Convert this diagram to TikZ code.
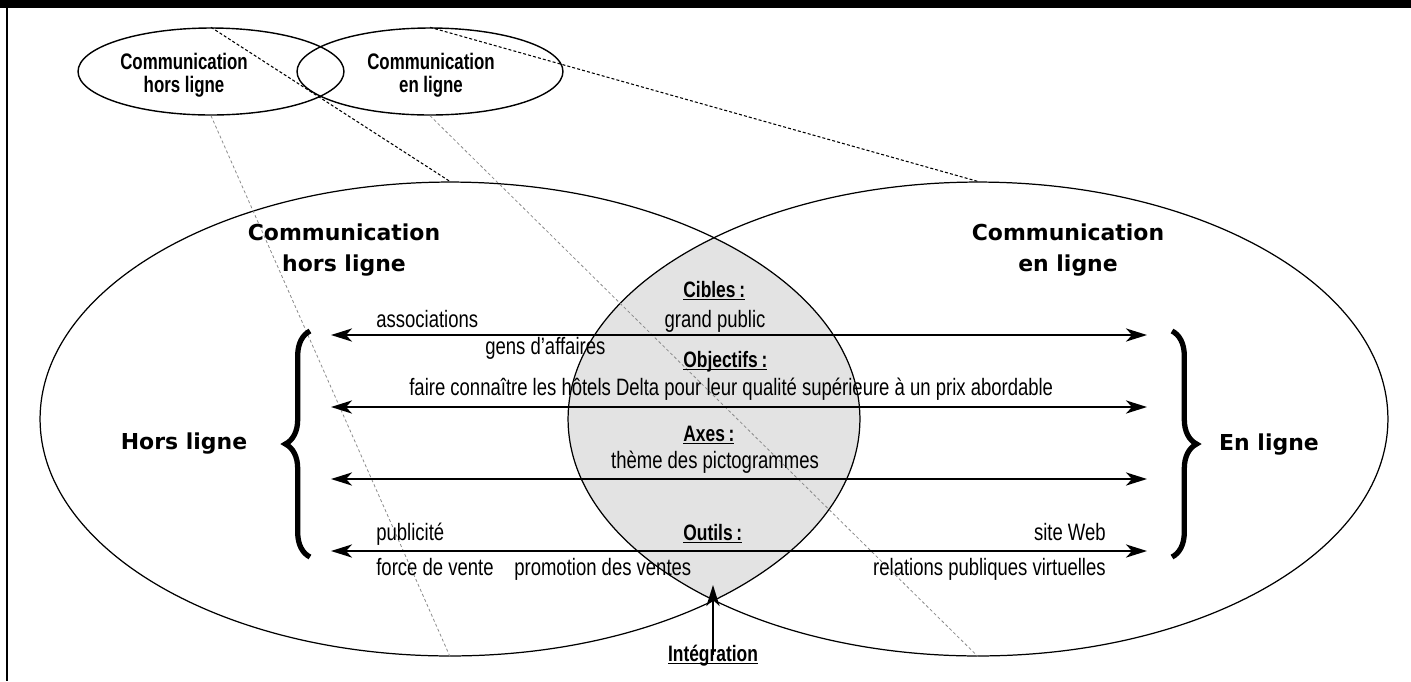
\documentclass[tikz,border=0pt]{standalone}
\usepackage{fontspec}
\newfontfamily\condfont[FakeStretch=0.78]{Liberation Sans}
\newfontfamily\condtitlefont[FakeStretch=0.75]{Liberation Sans}
\newfontfamily\widefont{DejaVu Sans}
\usepackage{xcolor}
\definecolor{lensgray}{HTML}{E3E3E3}
\definecolor{dashgray}{HTML}{8A8A8A}
\usetikzlibrary{arrows.meta, shapes.geometric, decorations.pathreplacing}
\newcommand{\ulhead}[1]{\underline{\smash{#1}}}

\begin{document}
\begin{tikzpicture}[x=0.02cm, y=-0.02cm,
  >={Stealth[length=12pt,width=7.5pt,inset=3.5pt]},
  bigell/.style={draw, ellipse, line width=0.7pt, minimum width=16.4cm, minimum height=9.48cm, inner sep=0pt},
  smallell/.style={draw, ellipse, line width=0.8pt, minimum width=5.32cm, minimum height=1.74cm, inner sep=0pt},
  topdash/.style={dash pattern=on 1.7pt off 1.2pt, line width=0.6pt},
  botdash/.style={dashgray, dash pattern=on 1.7pt off 1.4pt, line width=0.45pt},
  txt/.style={font=\condfont\fontsize{13.5}{13.5}\selectfont, inner sep=0pt},
  head/.style={font=\condfont\bfseries\fontsize{12.7}{13}\selectfont, inner sep=0pt},
  smalltitle/.style={font=\condtitlefont\bfseries\fontsize{12.8}{13}\selectfont, align=center, inner sep=0pt},
  bigtitle/.style={font=\widefont\bfseries\fontsize{12.5}{18}\selectfont, align=center, inner sep=0pt},
  sidetitle/.style={font=\widefont\bfseries\fontsize{12.5}{15}\selectfont, inner sep=0pt},
  dblarrow/.style={<->, line width=1.1pt},
  uparrow/.style={->, line width=1.1pt},
  bigbrace/.style={decorate, decoration={brace, amplitude=14pt}, line width=3pt}]
  \useasboundingbox (0,0) rectangle (1411,681);

  % --- frame ---
  \fill (0,0) rectangle (1411,8);
  \draw[line width=1pt] (7,8) -- (7,681);

  % --- overlap of the two big ellipses ---
  \begin{scope}
    \clip (450,419) ellipse [x radius=8.2cm, y radius=4.74cm];
    \fill[lensgray] (978,419) ellipse [x radius=8.2cm, y radius=4.74cm];
  \end{scope}

  % --- ellipses ---
  \node[bigell] (bigL) at (450,419) {};
  \node[bigell] (bigR) at (978,419) {};
  \node[smallell] (smL) at (211,71.5) {};
  \node[smallell] (smR) at (430,71.5) {};

  % projection lines
  \draw[topdash] (smL.north) -- (bigL.north);
  \draw[topdash] (smR.north) -- (bigR.north);
  \draw[botdash] (smL.south) -- (bigL.south);
  \draw[botdash] (smR.south) -- (bigR.south);

  \node[smalltitle] (smLtxt) at (184,75) {Communication\\hors ligne};
  \node[smalltitle] (smRtxt) at (431,75) {Communication\\en ligne};
  \node[bigtitle] (bigLtxt) at (344,250) {Communication\\hors ligne};
  \node[bigtitle] (bigRtxt) at (1068,250) {Communication\\en ligne};

  % --- arrows and braces ---
  \foreach \r/\yy in {1/335, 2/407, 3/479, 4/551} {
    \coordinate (l\r) at (331,\yy);
    \coordinate (r\r) at (1147,\yy);
    \draw[dblarrow] (l\r) -- (r\r);
  }
  \coordinate (braceLb) at (310,557);
  \coordinate (braceLt) at (310,331);
  \coordinate (braceRt) at (1172,331);
  \coordinate (braceRb) at (1172,557);
  \draw[bigbrace] (braceLb) -- (braceLt);
  \draw[bigbrace] (braceRt) -- (braceRb);
  \node[sidetitle, anchor=base] (hors) at (184,449) {Hors ligne};
  \node[sidetitle, anchor=base] (enligne) at (1269,450) {En ligne};

  % --- texts along the arrows ---
  \node[head, anchor=base west] (cibles) at (683,297) {\ulhead{Cibles\,:}};
  \node[txt, anchor=base] (public) at (715,327) {grand public};
  \node[txt, anchor=base west] (assoc) at (376,327) {associations};
  \node[txt, anchor=base west] (gens) at (485,354) {gens d’affaires};
  \node[head, anchor=base west] (objectifs) at (683,367) {\ulhead{Objectifs\,:}};
  \node[txt, anchor=base west] (faire) at (409,395) {faire connaître les hôtels Delta pour leur qualité supérieure à un prix abordable};
  \node[head, anchor=base west] (axes) at (683,441) {\ulhead{Axes\,:}};
  \node[txt, anchor=base] (theme) at (715,468) {thème des pictogrammes};
  \node[txt, anchor=base west] (pub) at (376,540) {publicité};
  \node[head, anchor=base west] (outils) at (683,540) {\ulhead{Outils\,:}};
  \node[txt, anchor=base east] (site) at (1106,540) {site Web};
  \node[txt, anchor=base west] (force) at (376,575) {force de vente};
  \node[txt, anchor=base west] (promo) at (514,575) {promotion des ventes};
  \node[txt, anchor=base east] (relations) at (1106,575) {relations publiques virtuelles};

  % --- integration ---
  \node[head, anchor=base, inner sep=3pt] (integ) at (713,661) {\ulhead{Intégration}};
  \coordinate (lenstip) at (713,585);
  \draw[uparrow] (integ.north) -- (lenstip);
\end{tikzpicture}
\end{document}
